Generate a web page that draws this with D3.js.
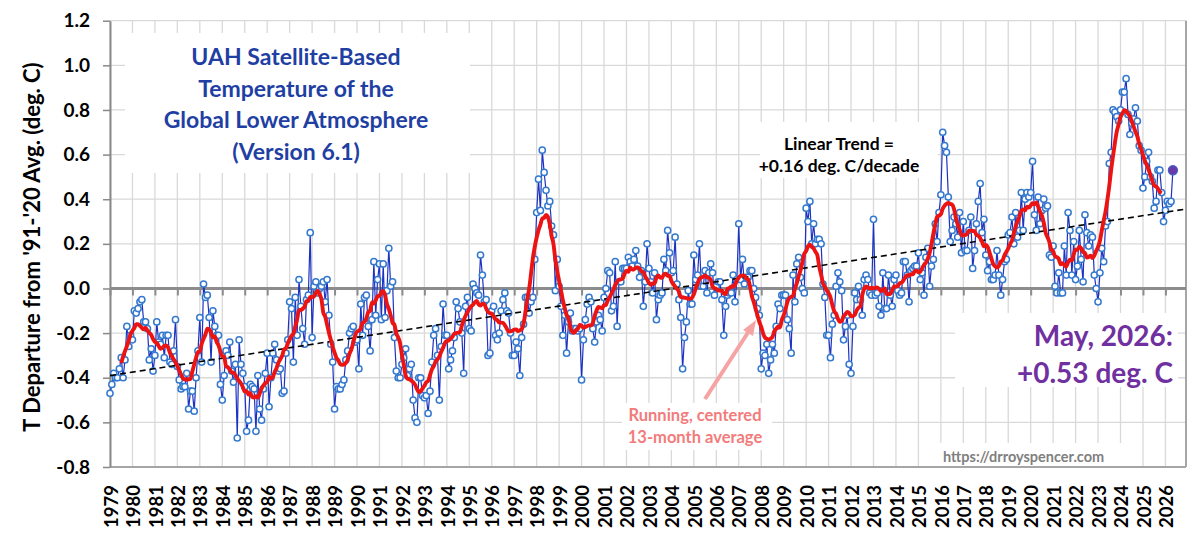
<!DOCTYPE html>
<html>
<head>
<meta charset="utf-8">
<script src="https://cdn.jsdelivr.net/npm/d3@7"></script>
<style>
  body { margin: 0; background: #fff; }
  svg text { font-family: Lato, Carlito, "Liberation Sans", sans-serif; font-weight: bold; }
</style>
</head>
<body>
<svg id="chart"></svg>
<script>
// UAH v6.1 global lower troposphere, monthly anomalies (deg C, 1991-2020 base), Jan 1979 ->
const anom1979to1989 = [
  -0.47,-0.43,-0.38,-0.40,-0.40,-0.36,-0.31,-0.40,-0.32,-0.17,-0.26,-0.21,
  -0.23,-0.10,-0.11,-0.09,-0.06,-0.05,-0.15,-0.15,-0.18,-0.32,-0.27,-0.37,
  -0.30,-0.15,-0.24,-0.25,-0.21,-0.31,-0.21,-0.21,-0.33,-0.34,-0.28,-0.14,
  -0.35,-0.41,-0.45,-0.44,-0.44,-0.38,-0.54,-0.46,-0.46,-0.55,-0.40,-0.28,
  -0.13,-0.33, 0.02,-0.04,-0.03,-0.13,-0.33,-0.10,-0.17,-0.21,-0.21,-0.43,
  -0.50,-0.39,-0.28,-0.30,-0.24,-0.37,-0.42,-0.34,-0.67,-0.23,-0.34,-0.38,
  -0.44,-0.64,-0.59,-0.43,-0.44,-0.45,-0.64,-0.39,-0.54,-0.59,-0.45,-0.38,
  -0.29,-0.53,-0.40,-0.29,-0.25,-0.32,-0.37,-0.36,-0.47,-0.46,-0.29,-0.23,
  -0.06,-0.09,-0.33,-0.04,-0.21, 0.04,-0.08,-0.18,-0.25,-0.05,-0.03, 0.25,
  -0.22, 0.01, 0.03,-0.02, 0.00, 0.01, 0.03,-0.06, 0.04,-0.12,-0.25,-0.33,
  -0.54,-0.44,-0.45,-0.45,-0.43,-0.41,-0.32,-0.28,-0.20,-0.18,-0.17,-0.24
];
const anom1990to1999 = [
  -0.23,-0.36,-0.07,-0.21,-0.04,-0.03,-0.17,-0.28,-0.14, 0.12,-0.12, 0.04,
   0.11,-0.14, 0.11,-0.13,-0.01, 0.18, 0.01, 0.03,-0.22,-0.37,-0.40,-0.40,
  -0.34,-0.31,-0.27,-0.39,-0.36,-0.34,-0.50,-0.58,-0.60,-0.40,-0.40,-0.48,
  -0.49,-0.48,-0.56,-0.46,-0.33,-0.21,-0.18,-0.30,-0.50,-0.26,-0.07,-0.21,
  -0.21,-0.36,-0.32,-0.28,-0.22,-0.06,-0.09,-0.15,-0.20,-0.38,-0.08,-0.04,
  -0.18,-0.19, 0.02, 0.00,-0.02,-0.03, 0.15, 0.06,-0.06,-0.05,-0.30,-0.29,
  -0.10,-0.08,-0.21,-0.23,-0.20,-0.10,-0.05,-0.02,-0.10,-0.11,-0.20,-0.30,
  -0.30,-0.24,-0.27,-0.39,-0.22,-0.16,-0.04,-0.04,-0.11,-0.06,-0.04, 0.13,
   0.34, 0.49, 0.35, 0.62, 0.52, 0.44, 0.37, 0.39, 0.28, 0.24,-0.01, 0.13,
   0.01,-0.08,-0.21,-0.12,-0.29,-0.15,-0.11,-0.19,-0.18,-0.18,-0.19,-0.18
];
const anom2000to2009 = [
  -0.41,-0.23,-0.14,-0.07,-0.04,-0.06,-0.18,-0.24,-0.15,-0.12,-0.14,-0.19,
  -0.04, 0.00, 0.08, 0.07,-0.10,-0.08, 0.12,-0.17, 0.03, 0.03, 0.09, 0.09,
   0.09, 0.14, 0.12, 0.10, 0.13, 0.17, 0.10, 0.05, 0.08,-0.08, 0.03, 0.20,
   0.09, 0.03,-0.02, 0.07,-0.14,-0.05,-0.03,-0.02, 0.13, 0.08, 0.26, 0.16,
   0.07, 0.08, 0.23, 0.02,-0.05,-0.13,-0.36,-0.22,-0.15,-0.01,-0.07,-0.07,
   0.15, 0.04, 0.06, 0.20, 0.01, 0.01, 0.08,-0.02, 0.07, 0.11, 0.07,-0.03,
   0.01, 0.03, 0.03,-0.05,-0.21,-0.08,-0.03,-0.02,-0.02, 0.06,-0.06, 0.04,
   0.29, 0.04, 0.13, 0.02, 0.05, 0.05, 0.08, 0.08, 0.00,-0.04,-0.09,-0.12,
  -0.36,-0.29,-0.30,-0.25,-0.38,-0.32,-0.25,-0.29,-0.17,-0.07,-0.09,-0.03,
  -0.03,-0.03,-0.14,-0.18,-0.29, 0.06,-0.06, 0.11, 0.14, 0.05, 0.00,-0.02
];
const anom2010to2019 = [
   0.36, 0.30, 0.39, 0.20, 0.29, 0.20, 0.22, 0.22, 0.20, 0.02,-0.04,-0.21,
  -0.21,-0.31,-0.16,-0.12, 0.01, 0.07, 0.03,-0.01,-0.23,-0.17,-0.12,-0.34,
  -0.38,-0.17,-0.02,-0.05, 0.01,-0.05,-0.12, 0.04, 0.06, 0.04,-0.02,-0.03,
   0.31,-0.03,-0.02,-0.08,-0.12, 0.07,-0.09,-0.09, 0.06,-0.03,-0.08, 0.04,
   0.06,-0.01,-0.03,-0.02, 0.12, 0.12, 0.06,-0.06, 0.08, 0.09, 0.10, 0.10,
   0.16, 0.04, 0.07,-0.03, 0.14, 0.18, 0.01, 0.10, 0.13, 0.29, 0.21, 0.34,
   0.42, 0.70, 0.64, 0.61, 0.41, 0.21, 0.26, 0.32, 0.29, 0.23, 0.34, 0.16,
   0.30, 0.17, 0.17, 0.26, 0.32, 0.09, 0.17, 0.29, 0.39, 0.47, 0.25, 0.31,
   0.15, 0.08, 0.12, 0.04, 0.04, 0.06, 0.17, 0.06,-0.03, 0.04, 0.12, 0.13,
   0.24, 0.25, 0.32, 0.20, 0.34, 0.23, 0.26, 0.43, 0.26, 0.40, 0.43, 0.41
];
const anom2020to2026 = [
   0.43, 0.57, 0.33, 0.26, 0.41, 0.29, 0.35, 0.40, 0.36, 0.37, 0.15, 0.14,
   0.19, 0.01,-0.02, 0.07,-0.02,-0.02, 0.19, 0.06, 0.34, 0.26, 0.06, 0.21,
   0.04, 0.10, 0.26, 0.13, 0.03, 0.33, 0.25, 0.19, 0.24, 0.23, 0.06, 0.00,
  -0.06, 0.07, 0.18, 0.12, 0.28, 0.30, 0.56, 0.61, 0.80, 0.79, 0.77, 0.75,
   0.80, 0.88, 0.88, 0.94, 0.78, 0.69, 0.74, 0.76, 0.81, 0.75, 0.64, 0.62,
   0.45, 0.50, 0.57, 0.61, 0.50, 0.48, 0.36, 0.39, 0.53, 0.53, 0.43, 0.30,
   0.35, 0.39, 0.38, 0.39, 0.53
];

const yearLabels = ["1979","1980","1981","1982","1983","1984","1985","1986","1987","1988",
  "1989","1990","1991","1992","1993","1994","1995","1996","1997","1998","1999","2000",
  "2001","2002","2003","2004","2005","2006","2007","2008","2009","2010","2011","2012",
  "2013","2014","2015","2016","2017","2018","2019","2020","2021","2022","2023","2024",
  "2025","2026"];
const yTicks = [-0.8, -0.6, -0.4, -0.2, 0.0, 0.2, 0.4, 0.6, 0.8, 1.0, 1.2];

const anomalies = [].concat(anom1979to1989, anom1990to1999, anom2000to2009, anom2010to2019, anom2020to2026);
const data = anomalies.map((v, i) => ({ i, v }));

const width = 1200, height = 540;
const svg = d3.select("#chart").attr("width", width).attr("height", height);

const plotLeft = 110, plotRight = 1186, plotTop = 20.7, plotBottom = 467;
// category axis runs Jan 1979 .. Dec 2026 (576 slots)
const x = d3.scaleLinear().domain([0, 575]).range([plotLeft, plotRight]);
const y = d3.scaleLinear().domain([-0.8, 1.2]).range([plotBottom, plotTop]);

// gridlines
const grid = svg.append("g").attr("stroke", "#d9d9d9").attr("stroke-width", 1.3);
grid.selectAll(".hg").data(yTicks.filter(t => t !== 0)).join("line")
  .attr("x1", plotLeft).attr("x2", plotRight)
  .attr("y1", d => y(d)).attr("y2", d => y(d));
grid.selectAll(".vg").data(yearLabels).join("line")
  .attr("x1", (d, k) => x(12 * k)).attr("x2", (d, k) => x(12 * k))
  .attr("y1", plotTop).attr("y2", plotBottom);

// white text boxes that hide the grid
const boxes = [
  [125, 33, 345, 140],
  [760, 122, 178, 56],
  [955, 313, 223, 74],
  [935, 443, 195, 23],
  [622, 403, 150, 47]
];
svg.append("g").selectAll("rect").data(boxes).join("rect")
  .attr("x", d => d[0]).attr("y", d => d[1])
  .attr("width", d => d[2]).attr("height", d => d[3])
  .attr("fill", "#fff");

// frame
svg.append("line").attr("x1", plotRight).attr("x2", plotRight).attr("y1", plotTop).attr("y2", plotBottom)
  .attr("stroke", "#a6a6a6").attr("stroke-width", 2);
svg.append("line").attr("x1", plotLeft).attr("x2", plotRight).attr("y1", plotBottom).attr("y2", plotBottom)
  .attr("stroke", "#a6a6a6").attr("stroke-width", 2);

// y axis
const yAxis = svg.append("g")
  .attr("transform", `translate(${plotLeft},0)`)
  .call(d3.axisLeft(y).tickValues(yTicks).tickSize(7).tickSizeOuter(0).tickPadding(13)
    .tickFormat(d => d.toFixed(1)));
yAxis.select(".domain").attr("stroke", "#898989").attr("stroke-width", 2);
yAxis.selectAll(".tick line").attr("stroke", "#898989").attr("stroke-width", 1.5);
yAxis.selectAll(".tick text").attr("fill", "#000")
  .style("font-size", "19px").style("font-family", "Lato, Carlito, sans-serif").style("font-weight", "bold");

// zero line with yearly ticks
const zeroAxis = svg.append("g")
  .attr("transform", `translate(0,${y(0)})`)
  .call(d3.axisBottom(x).tickValues(yearLabels.map((d, k) => 12 * k)).tickSize(7).tickFormat(""));
zeroAxis.select(".domain").remove();
zeroAxis.selectAll(".tick line").attr("stroke", "#8c8c8c").attr("stroke-width", 2);
svg.append("line").attr("x1", plotLeft).attr("x2", plotRight).attr("y1", y(0)).attr("y2", y(0))
  .attr("stroke", "#8c8c8c").attr("stroke-width", 3);

// year labels
svg.append("g").selectAll("text").data(yearLabels).join("text")
  .attr("transform", (d, k) => `translate(${x(12 * k) + 1},485) rotate(-90)`)
  .attr("text-anchor", "end").attr("dy", "0.36em")
  .style("font-size", "18.5px").attr("fill", "#000")
  .text(d => d);

// y axis title
svg.append("text")
  .attr("transform", "translate(40,247) rotate(-90)")
  .attr("text-anchor", "middle").attr("fill", "#000")
  .style("font-size", "22px")
  .text("T Departure from '91-'20 Avg. (deg. C)");

// linear trend (least squares over all months)
const mi = d3.mean(data, d => d.i), mv = d3.mean(data, d => d.v);
const slope = d3.sum(data, d => (d.i - mi) * (d.v - mv)) / d3.sum(data, d => (d.i - mi) ** 2);
const icpt = mv - slope * mi;

// monthly series
svg.append("path").datum(data)
  .attr("fill", "none").attr("stroke", "#1c33c2").attr("stroke-width", 1.2)
  .attr("d", d3.line().x(d => x(d.i)).y(d => y(d.v)));
svg.append("g").selectAll("circle").data(data.slice(0, -1)).join("circle")
  .attr("cx", d => x(d.i)).attr("cy", d => y(d.v)).attr("r", 3.1)
  .attr("fill", "#fff").attr("stroke", "#3579cf").attr("stroke-width", 1.5);

svg.append("line")
  .attr("x1", x(0)).attr("y1", y(icpt))
  .attr("x2", x(575)).attr("y2", y(icpt + slope * 575))
  .attr("stroke", "#000").attr("stroke-width", 1.6).attr("stroke-dasharray", "6,4");

// running, centered 13-month average
const running = data.slice(6, data.length - 6).map(d => ({
  i: d.i,
  v: d3.mean(anomalies.slice(d.i - 6, d.i + 7))
}));
svg.append("path").datum(running)
  .attr("fill", "none").attr("stroke", "#ec1313").attr("stroke-width", 3.9)
  .attr("stroke-linejoin", "round")
  .attr("d", d3.line().curve(d3.curveMonotoneX).x(d => x(d.i)).y(d => y(d.v)));

// latest month
const last = data[data.length - 1];
svg.append("circle").attr("cx", x(last.i)).attr("cy", y(last.v)).attr("r", 4.6)
  .attr("fill", "#6a3aa8").attr("stroke", "#3f62c8").attr("stroke-width", 1.2);

// title
const title = svg.append("g").attr("fill", "#1f3fa3").attr("text-anchor", "middle");
["UAH Satellite-Based", "Temperature of the", "Global Lower Atmosphere", "(Version 6.1)"]
  .forEach((t, k) => {
    title.append("text").attr("x", 296).attr("y", 65 + k * 31.7).style("font-size", "23px").text(t);
  });

// trend note
const trend = svg.append("g").attr("fill", "#000").attr("text-anchor", "middle").style("font-size", "17.5px");
trend.append("text").attr("x", 839).attr("y", 150).text("Linear Trend =");
trend.append("text").attr("x", 839).attr("y", 172).text("+0.16 deg. C/decade");

// running mean note and arrow
const note = svg.append("g").attr("fill", "#f37b7b").attr("text-anchor", "middle").style("font-size", "16.5px");
note.append("text").attr("x", 695).attr("y", 421).text("Running, centered");
note.append("text").attr("x", 695).attr("y", 443).text("13-month average");
svg.append("line").attr("x1", 705).attr("y1", 399).attr("x2", 749).attr("y2", 331)
  .attr("stroke", "#f5a3a3").attr("stroke-width", 4);
svg.append("path").attr("d", "M756,320 L743,330 L753,336 Z").attr("fill", "#f5a3a3");

// latest value
const latest = svg.append("g").attr("fill", "#7030a0").attr("text-anchor", "end").style("font-size", "28px");
latest.append("text").attr("x", 1173).attr("y", 346).text("May, 2026:");
latest.append("text").attr("x", 1173).attr("y", 383).text("+0.53 deg. C");

svg.append("text").attr("x", 943).attr("y", 462).attr("fill", "#808080")
  .style("font-size", "14.5px").text("https://drroyspencer.com");
</script>
</body>
</html>
